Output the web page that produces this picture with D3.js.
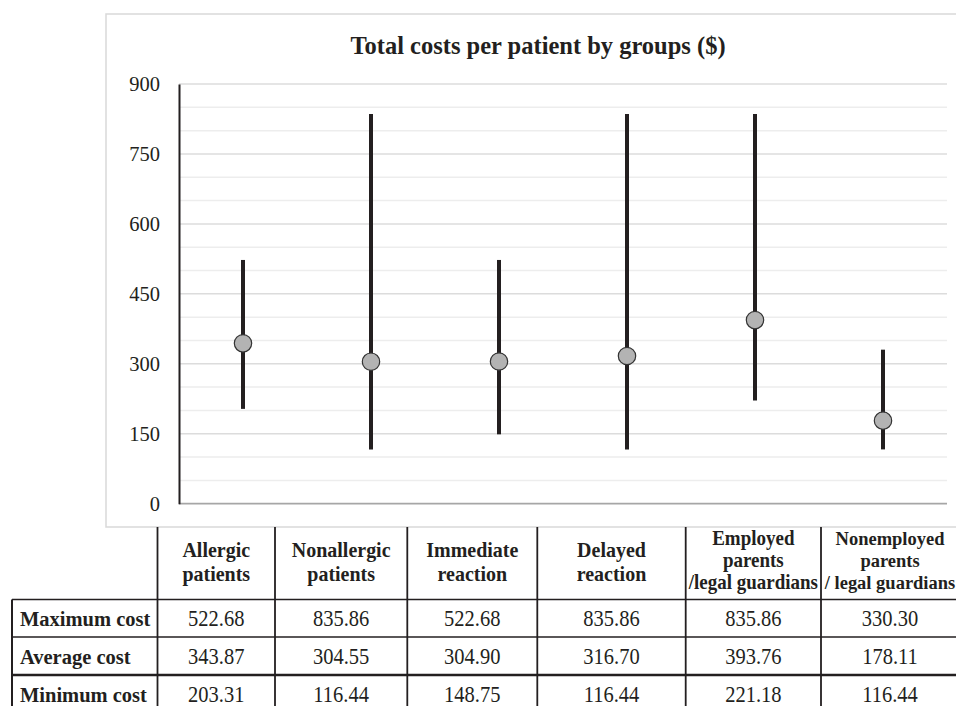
<!DOCTYPE html>
<html>
<head>
<meta charset="utf-8">
<script src="https://cdn.jsdelivr.net/npm/d3@7/dist/d3.min.js"></script>
<style>
  html, body { margin: 0; padding: 0; background: #fff; }
  svg { display: block; }
  text { font-family: "Liberation Serif", "Times New Roman", serif; fill: #231f20; }
</style>
</head>
<body>
<svg id="chart" width="956" height="706"></svg>
<script>
// ---- data ----
const categories = ["Allergic patients", "Nonallergic patients", "Immediate reaction", "Delayed reaction", "Employed parents /legal guardians", "Nonemployed parents / legal guardians"];
const headerLines = [["Allergic", "patients"], ["Nonallergic", "patients"], ["Immediate", "reaction"], ["Delayed", "reaction"], ["Employed", "parents", "/legal guardians"], ["Nonemployed", "parents", "/ legal guardians"]];
const maxCost = [522.68, 835.86, 522.68, 835.86, 835.86, 330.30];
const avgCost = [343.87, 304.55, 304.90, 316.70, 393.76, 178.11];
const minCost = [203.31, 116.44, 148.75, 116.44, 221.18, 116.44];
const rowLabels = ["Maximum cost", "Average cost", "Minimum cost"];
const yTicks = [0, 150, 300, 450, 600, 750, 900];
const title = "Total costs per patient by groups ($)";

// ---- layout ----
const svg = d3.select("#chart");
const plotLeft = 179, plotRight = 947, plotTop = 84, plotBottom = 503.7;
const y = d3.scaleLinear().domain([0, 900]).range([plotBottom, plotTop]);
const x = d3.scaleBand().domain(categories).range([plotLeft, plotRight]);

// chart box
svg.append("rect").attr("x", 106).attr("y", 14).attr("width", 880).attr("height", 513)
  .attr("fill", "#fff").attr("stroke", "#d9d9d9").attr("stroke-width", 1.5);

// title
svg.append("text").attr("transform", "translate(538,54) scale(1,1.04)").attr("text-anchor", "middle")
  .attr("font-size", 24.5).attr("font-weight", "bold").text(title);

// gridlines every 50
const gridVals = d3.range(50, 901, 50);
svg.append("g").selectAll("line").data(gridVals).join("line")
  .attr("x1", plotLeft).attr("x2", plotRight)
  .attr("y1", d => y(d)).attr("y2", d => y(d))
  .attr("stroke", d => d % 150 === 0 ? "#dcdcdc" : "#ededed")
  .attr("stroke-width", 1.5);

// x baseline
svg.append("line").attr("x1", plotLeft).attr("x2", plotRight)
  .attr("y1", y(0)).attr("y2", y(0)).attr("stroke", "#a6a6a6").attr("stroke-width", 1.8);

// y axis
const yAxis = d3.axisLeft(y).tickValues(yTicks).tickSize(0).tickPadding(19);
const gy = svg.append("g").attr("transform", `translate(${plotLeft},0)`).call(yAxis);
gy.select(".domain").attr("stroke", "#231f20").attr("stroke-width", 2);
gy.selectAll("text").attr("font-size", 20.5).attr("font-family", "'Liberation Serif', serif").attr("fill", "#231f20");

// whiskers
const cx = d => x(d) + x.bandwidth() / 2;
svg.append("g").selectAll("line").data(categories).join("line")
  .attr("x1", cx).attr("x2", cx)
  .attr("y1", (d, i) => y(maxCost[i])).attr("y2", (d, i) => y(minCost[i]))
  .attr("stroke", "#231f20").attr("stroke-width", 4);

// averages
svg.append("g").selectAll("circle").data(categories).join("circle")
  .attr("cx", cx).attr("cy", (d, i) => y(avgCost[i])).attr("r", 8.7)
  .attr("fill", "#b3b3b3").attr("stroke", "#333").attr("stroke-width", 1.2);

// ---- table ----
const colEdges = [157.5, 275, 407.3, 537.3, 685.7, 821, 959];
const labelLeft = 12;
const headerTop = 527, rowTops = [599.5, 637, 675, 713];
const tbl = svg.append("g");
// vertical lines
tbl.selectAll("line.v").data(colEdges.slice(0, -1)).join("line").attr("class", "v")
  .attr("x1", d => d).attr("x2", d => d).attr("y1", headerTop).attr("y2", 706)
  .attr("stroke", "#231f20").attr("stroke-width", 1.8);
tbl.append("line").attr("x1", labelLeft).attr("x2", labelLeft).attr("y1", rowTops[0]).attr("y2", 706)
  .attr("stroke", "#231f20").attr("stroke-width", 2);
// horizontal lines
tbl.selectAll("line.h").data(rowTops.slice(0, 3)).join("line").attr("class", "h")
  .attr("x1", labelLeft).attr("x2", 956).attr("y1", d => d).attr("y2", d => d)
  .attr("stroke", "#231f20").attr("stroke-width", (d, i) => i === 2 ? 2.5 : 1.6);

// headers
headerLines.forEach((lines, i) => {
  const mx = (colEdges[i] + colEdges[i + 1]) / 2;
  const three = lines.length === 3;
  const fs = three ? (i === 5 ? 18.5 : 19) : 20;
  const lh = three ? 22 : 24;
  const first = three ? 545 : 556.5;
  lines.forEach((ln, j) => {
    tbl.append("text").attr("transform", `translate(${mx},${first + j * lh}) scale(1,1.06)`)
      .attr("text-anchor", "middle")
      .attr("font-size", fs).attr("font-weight", "bold").text(ln);
  });
});

// row labels and values
const rows = [maxCost, avgCost, minCost];
rows.forEach((vals, r) => {
  const by = rowTops[r] + 26.5;
  tbl.append("text").attr("transform", `translate(20,${by}) scale(1,1.07)`).attr("text-anchor", "start")
    .attr("font-size", 20.5).attr("font-weight", "bold").text(rowLabels[r]);
  vals.forEach((v, i) => {
    const mx = (colEdges[i] + colEdges[i + 1]) / 2;
    tbl.append("text").attr("transform", `translate(${mx},${by}) scale(1,1.08)`).attr("text-anchor", "middle")
      .attr("font-size", 20.5).text(d3.format(".2f")(v));
  });
});
</script>
</body>
</html>
